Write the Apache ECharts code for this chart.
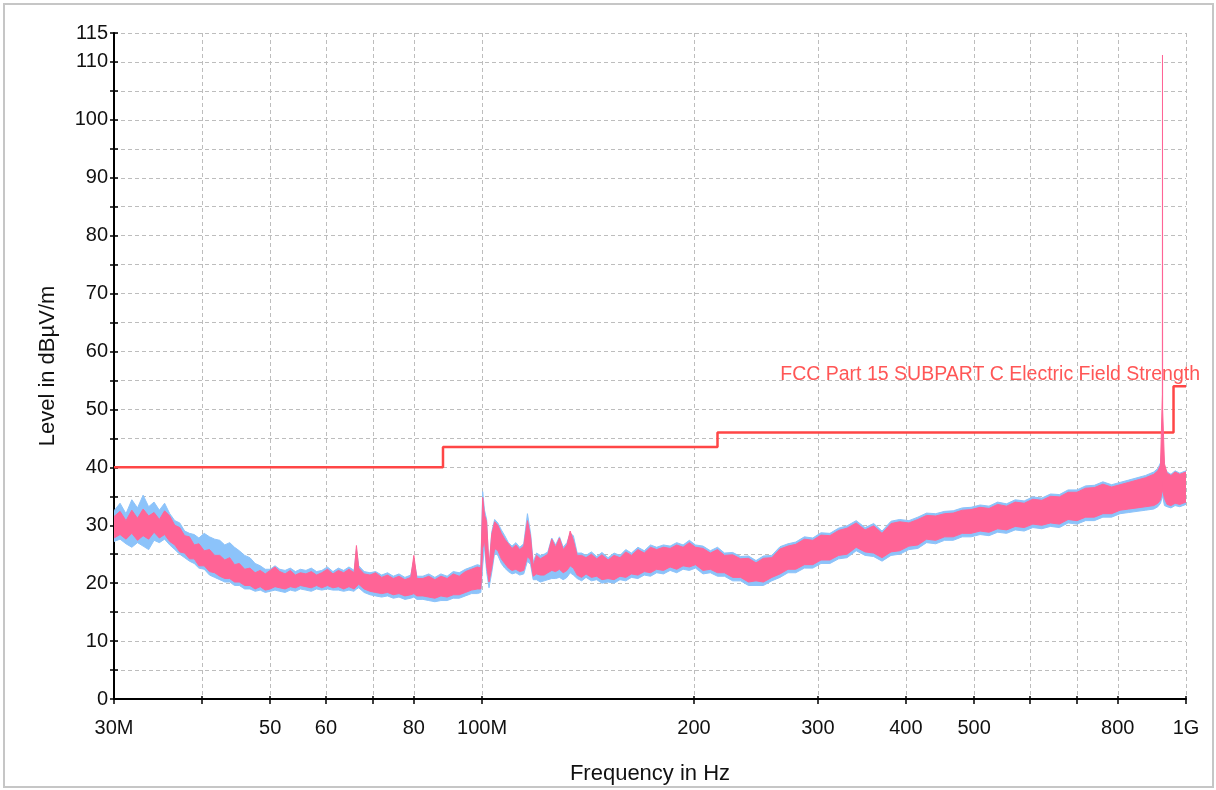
<!DOCTYPE html>
<html>
<head>
<meta charset="utf-8">
<script src="https://cdn.jsdelivr.net/npm/echarts@6/dist/echarts.min.js"></script>
<style>
  html, body { margin: 0; padding: 0; background: #fff; }
  #chart { width: 1216px; height: 790px; }
</style>
</head>
<body>
<div id="chart"></div>
<script>
// Sweep frequencies (MHz) shared by both traces
const freqMHz = [
  30, 30.6, 31.2, 31.8, 32.4, 33, 33.6, 34.2, 34.8, 35.4,
  36, 36.6, 37.2, 37.8, 38.4, 39, 39.6, 40.3, 41, 41.7,
  42.4, 43.1, 43.8, 44.5, 45.2, 46, 46.8, 47.6, 48.4, 49.2,
  50, 50.8, 51.6, 52.5, 53.4, 54.3, 55.2, 56.2, 57.2, 58.2,
  59.2, 60.3, 61.4, 62.5, 63.6, 64.7, 65.8, 66.3, 66.8, 68,
  69.3, 70.6, 72, 73.4, 74.8, 76.2, 77.7, 79.2, 80, 80.8,
  82.4, 84, 85.7, 87.4, 89.2, 91, 92.8, 94.7, 96.6, 98.5,
  99.6, 100.2, 100.8, 101.5, 102.3, 103.2, 104.2, 105.3, 106.5, 107.7,
  109, 110.3, 111.7, 113.1, 114.6, 116, 117.2, 118.2, 119.5, 121,
  122.5, 124, 125.6, 127.2, 128.8, 130.4, 132, 133.4, 134.8, 136.5,
  138.5, 140.5, 143, 145.5, 148, 151, 154, 157, 160, 163,
  166.5, 170, 173.5, 177, 181, 185, 189, 193, 197, 201,
  206, 211, 216, 221, 227, 233, 239, 245, 251, 258,
  265, 272, 279, 287, 295, 303, 312, 321, 330, 340,
  350, 360, 370, 381, 392, 404, 416, 428, 441, 454,
  467, 481, 495, 510, 525, 540, 556, 572, 589, 606,
  624, 642, 661, 680, 700, 720, 741, 762, 784, 806,
  829, 852, 876, 900, 912, 920, 925.6, 926, 926.4, 932,
  940, 952, 965, 980, 1000
];

// Peak trace (pink): lower and upper edge of the noise band, dBµV/m
const pinkLow = [
  27.8, 28.4, 27.6, 28.6, 27.4, 28.2, 27.6, 28.8, 27.8, 28.4,
  27.2, 26.6, 25.4, 25.2, 24.2, 24.2, 23.0, 23.0, 22.0, 21.8,
  21.2, 20.8, 20.8, 20.2, 20.2, 19.6, 19.6, 19.0, 19.4, 18.8,
  19.0, 19.4, 19.2, 19.0, 19.4, 19.2, 19.6, 19.4, 19.2, 19.6,
  19.2, 19.6, 19.2, 19.4, 19.0, 19.4, 19.0, 19.4, 19.8, 19.0,
  18.6, 18.4, 18.2, 18.4, 18.0, 18.2, 17.8, 18.0, 18.2, 17.8,
  17.8, 17.6, 17.4, 17.8, 17.6, 18.0, 18.0, 18.4, 18.8, 19.0,
  19.0, 26.0, 27.4, 23.0, 20.2, 22.6, 26.0, 25.6, 24.2, 23.4,
  22.6, 22.2, 22.4, 22.0, 22.2, 24.6, 24.0, 21.2, 21.6, 21.4,
  21.4, 21.8, 22.2, 22.0, 22.4, 21.8, 22.2, 23.0, 22.6, 21.4,
  21.0, 21.6, 21.0, 21.2, 20.6, 20.8, 20.6, 21.2, 21.0, 21.6,
  21.4, 22.0, 21.8, 22.4, 22.2, 22.8, 22.4, 23.0, 22.8, 23.2,
  22.2, 22.4, 21.8, 21.8, 21.0, 21.0, 20.2, 20.4, 20.2, 21.0,
  21.6, 22.4, 22.4, 23.2, 23.2, 24.0, 24.0, 24.8, 25.0, 26.2,
  25.4, 25.2, 24.4, 25.4, 25.6, 26.4, 26.6, 27.6, 27.4, 28.0,
  28.0, 28.6, 28.6, 29.0, 28.8, 29.4, 29.2, 29.8, 29.6, 30.2,
  30.0, 30.4, 30.2, 31.0, 30.8, 31.4, 31.4, 32.0, 32.0, 32.6,
  32.8, 33.0, 33.2, 33.4, 33.8, 34.4, 36.0, 38.0, 36.0, 34.6,
  33.6, 33.4, 33.8, 33.6, 34.0
];
const pinkHigh = [
  31.5, 32.4, 30.8, 32.6, 31.2, 32.8, 31.6, 32.2, 31.0, 32.5,
  31.6, 30.0, 29.6, 28.2, 28.0, 26.6, 26.8, 25.6, 25.8, 24.8,
  24.8, 24.0, 24.4, 23.2, 23.4, 22.4, 22.6, 21.8, 22.2, 21.6,
  22.2, 22.8, 22.0, 21.6, 22.2, 21.4, 21.8, 21.6, 22.0, 21.4,
  21.8, 22.4, 21.6, 22.2, 21.8, 22.4, 21.8, 26.5, 22.6, 21.6,
  21.4, 21.8, 21.0, 21.4, 20.8, 21.2, 20.6, 21.0, 24.8, 20.8,
  20.8, 21.2, 20.6, 21.2, 20.8, 21.6, 21.2, 22.0, 22.4, 22.8,
  22.6, 34.8, 31.8, 30.6, 22.8, 28.4, 30.6, 30.0, 28.6, 27.6,
  26.8, 26.0, 26.6, 25.8, 26.4, 30.8, 28.0, 23.0, 24.8, 24.2,
  24.6, 25.0, 27.6, 26.2, 27.8, 25.8, 26.6, 29.0, 27.4, 24.8,
  24.8, 24.4, 25.0, 24.2, 24.9, 24.0, 24.8, 24.4, 25.4, 24.8,
  25.8, 25.2, 26.2, 25.8, 26.2, 26.0, 26.6, 26.2, 27.0, 26.2,
  26.0, 25.2, 25.8, 24.8, 24.9, 24.2, 24.3, 23.5, 24.3, 24.4,
  25.9, 26.4, 26.7, 27.6, 27.4, 28.3, 28.2, 29.1, 29.5, 30.4,
  29.2, 29.9, 28.6, 30.3, 30.6, 30.4, 31.0, 31.7, 31.6, 32.0,
  32.1, 32.6, 32.7, 33.1, 32.9, 33.6, 33.3, 34.0, 33.8, 34.5,
  34.3, 35.0, 34.9, 35.7, 35.7, 36.4, 36.5, 37.1, 36.6, 37.0,
  37.4, 37.8, 38.2, 38.8, 39.4, 40.4, 52.6, 111.2, 50.0, 40.6,
  39.0, 38.6, 39.2, 38.8, 39.2
];

// Average trace (blue): lower and upper edge of the noise band, dBµV/m
const blueLow = [
  27.2, 27.6, 26.8, 26.2, 27.0, 26.4, 25.8, 27.4, 27.0, 27.6,
  26.6, 25.8, 25.0, 24.4, 23.8, 23.4, 22.6, 22.4, 21.4, 21.0,
  20.6, 20.2, 20.2, 19.6, 19.6, 19.0, 19.0, 18.6, 18.8, 18.4,
  18.6, 18.8, 18.6, 18.4, 18.8, 18.6, 19.0, 18.8, 18.6, 19.0,
  18.8, 19.0, 18.8, 18.8, 18.6, 18.8, 18.6, 19.0, 19.2, 18.4,
  18.0, 17.8, 17.6, 17.8, 17.4, 17.6, 17.2, 17.4, 17.6, 17.2,
  17.2, 17.0, 16.8, 17.0, 17.0, 17.4, 17.4, 17.8, 18.2, 18.2,
  18.4, 23.0, 26.4, 22.0, 19.2, 21.8, 25.2, 24.8, 23.4, 22.6,
  22.0, 21.6, 21.8, 21.4, 21.6, 23.8, 23.2, 20.6, 20.6, 20.2,
  20.4, 20.6, 20.8, 20.8, 21.0, 20.6, 21.0, 21.8, 21.4, 20.8,
  20.4, 21.0, 20.4, 20.6, 20.0, 20.2, 20.0, 20.6, 20.4, 21.0,
  20.8, 21.4, 21.2, 21.8, 21.6, 22.2, 21.8, 22.4, 22.2, 22.6,
  21.6, 21.8, 21.2, 21.2, 20.4, 20.4, 19.6, 19.6, 19.6, 20.4,
  21.0, 21.8, 21.8, 22.6, 22.6, 23.4, 23.4, 24.2, 24.4, 25.6,
  24.8, 24.6, 23.8, 24.8, 25.0, 25.8, 26.0, 27.0, 26.8, 27.4,
  27.4, 28.0, 28.0, 28.4, 28.2, 28.8, 28.6, 29.2, 29.0, 29.6,
  29.4, 29.8, 29.6, 30.4, 30.2, 30.8, 30.8, 31.4, 31.4, 32.0,
  32.2, 32.4, 32.6, 32.8, 33.2, 33.8, 35.0, 36.0, 35.0, 33.4,
  33.2, 33.0, 33.4, 33.2, 33.6
];
const blueHigh = [
  32.5, 33.8, 32.0, 34.4, 33.0, 35.2, 33.2, 34.0, 32.6, 33.8,
  32.0, 30.8, 30.4, 29.0, 28.6, 28.4, 27.8, 28.6, 28.0, 27.6,
  27.4, 26.6, 27.0, 26.2, 25.6, 24.8, 24.4, 23.4, 23.0, 22.4,
  22.4, 23.0, 22.4, 22.2, 22.6, 22.0, 22.4, 22.2, 22.6, 22.0,
  22.2, 22.8, 22.0, 22.6, 22.2, 22.8, 22.2, 25.8, 23.0, 22.0,
  21.8, 22.0, 21.4, 21.8, 21.2, 21.6, 21.0, 21.4, 24.0, 21.2,
  21.2, 21.6, 21.0, 21.6, 21.2, 22.0, 21.8, 22.4, 22.8, 23.2,
  23.0, 35.8, 32.6, 31.0, 22.4, 28.8, 31.0, 30.4, 29.2, 28.2,
  27.0, 26.4, 27.0, 26.2, 26.8, 32.0, 28.6, 23.6, 25.2, 24.8,
  25.0, 25.4, 27.8, 26.6, 28.0, 26.2, 27.0, 28.6, 28.2, 25.2,
  25.2, 24.8, 25.4, 24.6, 25.3, 24.4, 25.2, 24.8, 25.8, 25.2,
  26.2, 25.6, 26.6, 26.2, 26.6, 26.4, 27.0, 26.6, 27.4, 26.6,
  26.4, 25.6, 26.2, 25.2, 25.3, 24.6, 24.7, 23.9, 24.7, 24.8,
  26.3, 26.8, 27.1, 28.0, 27.8, 28.7, 28.6, 29.5, 29.9, 30.8,
  29.6, 30.3, 29.0, 30.7, 31.0, 30.8, 31.4, 32.1, 32.0, 32.4,
  32.5, 33.0, 33.1, 33.5, 33.3, 34.0, 33.7, 34.4, 34.2, 34.9,
  34.7, 35.4, 35.3, 36.1, 36.1, 36.8, 36.9, 37.5, 37.0, 37.4,
  37.8, 38.2, 38.6, 39.2, 39.8, 40.8, 44.0, 48.4, 44.0, 40.0,
  39.2, 38.8, 39.4, 39.0, 39.4
];

// Limit line: breakpoints (MHz) and level (dBµV/m) from each breakpoint on
const limitFreqMHz = [30, 88, 216, 960, 1000];
const limitLevel = [40, 43.5, 46, 54, 54];
const limitName = 'FCC Part 15 SUBPART C Electric Field Strength';

// Axis ticks and labels
const xTickValues = [30, 40, 50, 60, 70, 80, 100, 200, 300, 400, 500, 600, 700, 800, 1000];
const xLabelValues = [30, 50, 60, 80, 100, 200, 300, 400, 500, 800, 1000];
const xLabelText = ['30M', '50', '60', '80', '100M', '200', '300', '400', '500', '800', '1G'];
const yLabelValues = [0, 10, 20, 30, 40, 50, 60, 70, 80, 90, 100, 110, 115];

const FONT = '"Liberation Sans", Arial, sans-serif';
const SZ = { tick: 20, title: 22, ytitle: 22, limit: 19.5 };

const TEXT = '#111';
const PINK = '#ff6496';
const BLUE = '#8cc3fa';
const RED = '#ff4646';

const chart = echarts.init(document.getElementById('chart'), null, { renderer: 'canvas' });

// Noise band of one trace: upper edge left to right, lower edge back again
function bandSeries(name, low, high, color, z) {
  return {
    type: 'custom',
    name: name,
    z: z,
    clip: true,
    silent: true,
    data: freqMHz.map((f, i) => [f, low[i], high[i]]),
    encode: { x: 0, y: [1, 2] },
    renderItem: function (params, api) {
      if (params.dataIndex !== 0) return null;
      const pts = [];
      for (let i = 0; i < freqMHz.length; i++) pts.push(api.coord([freqMHz[i], high[i]]));
      for (let i = freqMHz.length - 1; i >= 0; i--) pts.push(api.coord([freqMHz[i], low[i]]));
      return {
        type: 'polygon',
        shape: { points: pts },
        style: { fill: color, stroke: color, lineWidth: 1 }
      };
    }
  };
}

function nearestLabel(v) {
  for (let i = 0; i < xLabelValues.length; i++) {
    if (Math.abs(xLabelValues[i] - v) < 1e-6 * xLabelValues[i]) return xLabelText[i];
  }
  return '';
}

const gridLine = { show: true, lineStyle: { color: '#bdbdbd', width: 1, type: [4, 3] } };

chart.setOption({
  animation: false,
  backgroundColor: '#fff',
  grid: { left: 114, right: 30, top: 33, bottom: 90, containLabel: false },
  xAxis: [
    {
      type: 'log', logBase: 10, min: 30, max: 1000,
      name: 'Frequency in Hz', nameLocation: 'middle', nameGap: 64,
      nameTextStyle: { fontFamily: FONT, fontSize: SZ.title, color: TEXT },
      axisLine: { show: true, lineStyle: { color: '#000', width: 2 } },
      axisTick: { show: true, customValues: xTickValues, length: 5, lineStyle: { color: '#000', width: 1.5 } },
      axisLabel: {
        show: true, customValues: xLabelValues, margin: 19,
        formatter: nearestLabel,
        fontFamily: FONT, fontSize: SZ.tick, color: TEXT
      },
      minorTick: { show: false },
      splitLine: gridLine
    },
    {
      type: 'log', logBase: 10, min: 30, max: 1000, position: 'bottom',
      axisLine: { show: false },
      axisTick: { show: true, inside: true, customValues: xTickValues, length: 3, lineStyle: { color: '#000', width: 1.5 } },
      axisLabel: { show: false },
      splitLine: { show: false }
    }
  ],
  yAxis: [
    {
      type: 'value', min: 0, max: 115, interval: 5,
      name: 'Level in dBµV/m', nameLocation: 'middle', nameGap: 55, nameRotate: 90,
      nameTextStyle: { fontFamily: FONT, fontSize: SZ.ytitle, color: TEXT },
      axisLine: { show: true, lineStyle: { color: '#000', width: 2 } },
      axisTick: { show: true, length: 4, lineStyle: { color: '#000', width: 1.5 } },
      axisLabel: {
        show: true, margin: 6,
        formatter: v => (yLabelValues.indexOf(v) >= 0 ? String(v) : ''),
        fontFamily: FONT, fontSize: SZ.tick, color: TEXT
      },
      splitLine: gridLine
    },
    {
      type: 'value', min: 0, max: 115, interval: 5, position: 'left',
      axisLine: { show: false },
      axisTick: { show: true, inside: true, length: 4, lineStyle: { color: '#000', width: 1.5 } },
      axisLabel: { show: false },
      splitLine: { show: false }
    }
  ],
  series: [
    {
      type: 'line',
      name: limitName,
      z: 2,
      step: 'end',
      symbol: 'none',
      silent: true,
      data: limitFreqMHz.map((f, i) => [f, limitLevel[i]]),
      lineStyle: { color: RED, width: 2.5 }
    },
    bandSeries('Average', blueLow, blueHigh, BLUE, 3),
    bandSeries('Peak', pinkLow, pinkHigh, PINK, 4)
  ]
});

// Limit line caption, anchored to the last limit breakpoint
const anchor = chart.convertToPixel({ xAxisIndex: 0, yAxisIndex: 0 },
  [limitFreqMHz[limitFreqMHz.length - 1], limitLevel[limitLevel.length - 1]]);

chart.setOption({
  graphic: [
    {
      type: 'rect', silent: true, z: 0,
      shape: { x: 4, y: 4, width: 1209, height: 783 },
      style: { fill: 'none', stroke: '#c6c6c6', lineWidth: 2 }
    },
    {
      type: 'text', silent: true, z: 10,
      x: anchor[0] + 14, y: anchor[1] - 12,
      style: {
        text: limitName, align: 'right', verticalAlign: 'middle',
        fill: '#ff5656', fontFamily: FONT, fontSize: SZ.limit
      }
    }
  ]
});
</script>
</body>
</html>
